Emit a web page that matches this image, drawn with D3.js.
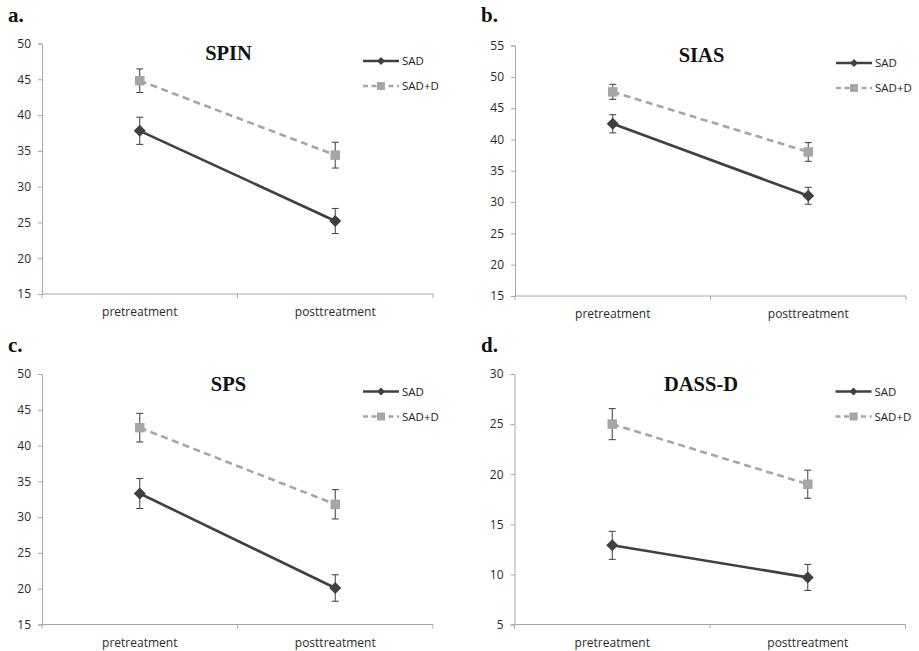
<!DOCTYPE html>
<html>
<head>
<meta charset="utf-8">
<script src="https://cdn.jsdelivr.net/npm/d3@7"></script>
<style>
  body { margin: 0; background: #fff; }
  .axis text { font-family: "Open Sans", "Liberation Sans", sans-serif; font-size: 12px; fill: #2b2b2b; }
  .axis path, .axis line { stroke: #a6a6a6; }
  .panel-letter { font-family: "Liberation Serif", "DejaVu Serif", serif; font-weight: bold; font-size: 21px; fill: #111; }
  .panel-title { font-family: "Liberation Serif", "DejaVu Serif", serif; font-weight: bold; font-size: 20.5px; fill: #111; }
  .legend text { font-family: "Open Sans", "Liberation Sans", sans-serif; font-size: 11.5px; fill: #222; }
</style>
</head>
<body>
<svg id="chart" width="919" height="651"></svg>
<script>
// Data
const categories = ['pretreatment', 'posttreatment']
const seriesNames = ['SAD', 'SAD+D']

const spinSAD = [37.8, 25.2],   spinSADErr = [1.9, 1.75]
const spinSADD = [44.8, 34.4],  spinSADDErr = [1.65, 1.8]
const siasSAD = [42.5, 31.0],   siasSADErr = [1.45, 1.35]
const siasSADD = [47.6, 38.0],  siasSADDErr = [1.2, 1.5]
const spsSAD = [33.3, 20.1],    spsSADErr = [2.1, 1.85]
const spsSADD = [42.5, 31.8],   spsSADDErr = [2.0, 2.05]
const dassSAD = [12.9, 9.7],    dassSADErr = [1.4, 1.3]
const dassSADD = [25.0, 19.0],  dassSADDErr = [1.55, 1.4]

const spinTicks = [15, 20, 25, 30, 35, 40, 45, 50]
const siasTicks = [15, 20, 25, 30, 35, 40, 45, 50, 55]
const spsTicks = [15, 20, 25, 30, 35, 40, 45, 50]
const dassTicks = [5, 10, 15, 20, 25, 30]

const panels = [
    {letter: 'a.', title: 'SPIN', ticks: spinTicks, sad: spinSAD, sadErr: spinSADErr, sadd: spinSADD, saddErr: spinSADDErr,
     left: 42, top: 43.5, lx: 8, ly: 22},
    {letter: 'b.', title: 'SIAS', ticks: siasTicks, sad: siasSAD, sadErr: siasSADErr, sadd: siasSADD, saddErr: siasSADDErr,
     left: 515, top: 45.5, lx: 481, ly: 22},
    {letter: 'c.', title: 'SPS', ticks: spsTicks, sad: spsSAD, sadErr: spsSADErr, sadd: spsSADD, saddErr: spsSADDErr,
     left: 42, top: 374, lx: 8, ly: 352},
    {letter: 'd.', title: 'DASS-D', ticks: dassTicks, sad: dassSAD, sadErr: dassSADErr, sadd: dassSADD, saddErr: dassSADDErr,
     left: 514.5, top: 374, lx: 481, ly: 352}
]

const W = 391, H = 250.5
const darkCol = '#404040', lightCol = '#a6a6a6', errCol = '#4d4d4d'

const svg = d3.select('#chart')

panels.forEach(p => {
    svg.append('text')
        .attr('class', 'panel-letter')
        .attr('x', p.lx)
        .attr('y', p.ly)
        .text(p.letter)

    const g = svg.append('g')
        .attr('transform', `translate(${p.left},${p.top})`)

    let x = d3.scaleBand()
        .domain(categories)
        .range([0, W])

    let y = d3.scaleLinear()
        .domain(d3.extent(p.ticks))
        .range([H, 0])

    // y axis
    g.append('g')
        .attr('class', 'axis')
        .call(d3.axisLeft(y).tickValues(p.ticks).tickSize(4).tickSizeOuter(4).tickPadding(7))

    // x axis, ticks at category boundaries
    const xg = g.append('g')
        .attr('class', 'axis')
        .attr('transform', `translate(0,${H})`)
    xg.append('path')
        .attr('d', `M0,0H${W}`)
        .attr('fill', 'none')
    xg.selectAll('.bnd')
      .data([0, W / 2, W])
      .join('line')
        .attr('x1', d => d).attr('x2', d => d)
        .attr('y1', 0).attr('y2', 4)
    xg.selectAll('.lbl')
      .data(categories)
      .join('text')
        .attr('x', d => x(d) + x.bandwidth() / 2)
        .attr('y', 22)
        .attr('text-anchor', 'middle')
        .text(d => d)

    // title
    g.append('text')
        .attr('class', 'panel-title')
        .attr('x', W / 2 - 9)
        .attr('y', 16.5)
        .attr('text-anchor', 'middle')
        .text(p.title)

    const cx = d => x(d) + x.bandwidth() / 2
    const line = d3.line()
        .x((d, i) => cx(categories[i]))
        .y(d => y(d))

    const series = [
        {vals: p.sadd, errs: p.saddErr, col: lightCol, dash: '7,4.5', marker: 'square'},
        {vals: p.sad, errs: p.sadErr, col: darkCol, dash: null, marker: 'diamond'}
    ]

    series.forEach(s => {
        g.append('path')
            .datum(s.vals)
            .attr('fill', 'none')
            .attr('stroke', s.col)
            .attr('stroke-width', 2.6)
            .attr('stroke-dasharray', s.dash)
            .attr('d', line)

        // error bars
        const eb = g.append('g')
          .selectAll('g')
          .data(s.vals)
          .join('g')
            .attr('stroke', errCol)
            .attr('stroke-width', 1.1)
        eb.append('line')
            .attr('x1', (d, i) => cx(categories[i])).attr('x2', (d, i) => cx(categories[i]))
            .attr('y1', (d, i) => y(d + s.errs[i])).attr('y2', (d, i) => y(d - s.errs[i]))
        eb.append('line')
            .attr('x1', (d, i) => cx(categories[i]) - 3.5).attr('x2', (d, i) => cx(categories[i]) + 3.5)
            .attr('y1', (d, i) => y(d + s.errs[i])).attr('y2', (d, i) => y(d + s.errs[i]))
        eb.append('line')
            .attr('x1', (d, i) => cx(categories[i]) - 3.5).attr('x2', (d, i) => cx(categories[i]) + 3.5)
            .attr('y1', (d, i) => y(d - s.errs[i])).attr('y2', (d, i) => y(d - s.errs[i]))

        g.append('g')
          .selectAll('path')
          .data(s.vals)
          .join('path')
            .attr('transform', (d, i) => `translate(${cx(categories[i])},${y(d)})`)
            .attr('d', s.marker === 'square'
                ? d3.symbol(d3.symbolSquare, 90)()
                : 'M0,-6L6,0L0,6L-6,0Z')
            .attr('fill', s.col)
    })

    // legend
    const lg = g.append('g').attr('class', 'legend')
        .attr('transform', `translate(${W - 70},0)`)
    const legendRows = [
        {name: seriesNames[0], col: darkCol, dash: null, marker: 'diamond', yy: 17.5},
        {name: seriesNames[1], col: lightCol, dash: '5,3.5', marker: 'square', yy: 42.5}
    ]
    legendRows.forEach(r => {
        lg.append('line')
            .attr('x1', 0).attr('x2', 36)
            .attr('y1', r.yy).attr('y2', r.yy)
            .attr('stroke', r.col)
            .attr('stroke-width', 2.4)
            .attr('stroke-dasharray', r.dash)
        lg.append('path')
            .attr('transform', `translate(18,${r.yy})`)
            .attr('d', r.marker === 'square' ? d3.symbol(d3.symbolSquare, 64)() : 'M0,-4L4,0L0,4L-4,0Z')
            .attr('fill', r.col)
        lg.append('text')
            .attr('x', 39)
            .attr('y', r.yy)
            .attr('dy', '0.35em')
            .text(r.name)
    })
})
</script>
</body>
</html>
